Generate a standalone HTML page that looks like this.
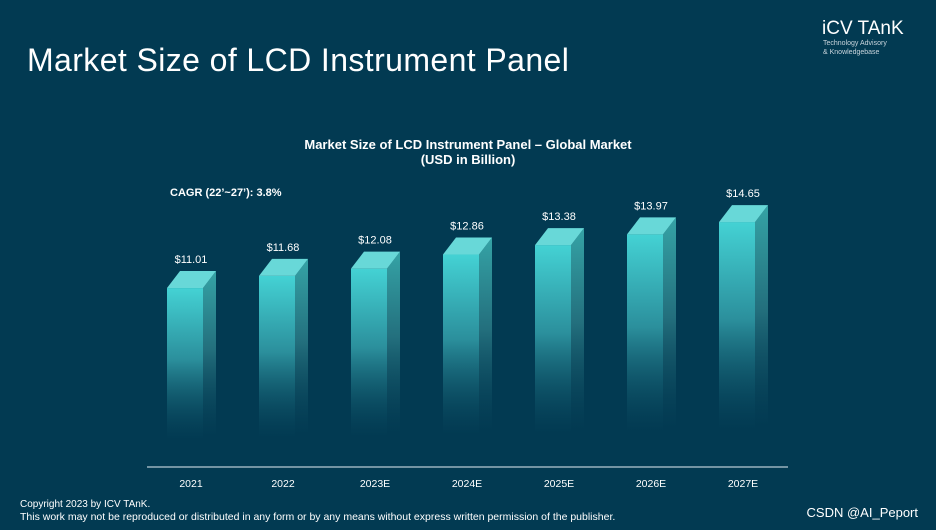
<!DOCTYPE html>
<html><head><meta charset="utf-8"><style>
body{margin:0;width:936px;height:530px;background:#023a52;overflow:hidden;font-family:"Liberation Sans",sans-serif;color:#fff}
</style></head><body>
<svg width="936" height="530" style="position:absolute;left:0;top:0">
<defs>
<linearGradient id="gf" x1="0" y1="0" x2="0" y2="1"><stop offset="0" stop-color="#44d2d4"/><stop offset="0.4" stop-color="#2b8f9c"/><stop offset="0.85" stop-color="#023a52" stop-opacity="0.3"/><stop offset="1" stop-color="#023a52" stop-opacity="0"/></linearGradient>
<linearGradient id="gs" x1="0" y1="0" x2="0" y2="1"><stop offset="0" stop-color="#35a3a6"/><stop offset="0.4" stop-color="#236f7d"/><stop offset="0.85" stop-color="#023a52" stop-opacity="0.3"/><stop offset="1" stop-color="#023a52" stop-opacity="0"/></linearGradient>
</defs>
<rect x="0" y="0" width="936" height="530" fill="#023a52"/>
<text x="27" y="71" font-size="32" letter-spacing="0.4" fill="#fff">Market Size of LCD Instrument Panel</text>
<text x="822" y="34" font-size="19" fill="#fff">iCV TAnK</text>
<text x="823" y="45" font-size="7" fill="#c8d4dc">Technology Advisory</text>
<text x="823" y="54" font-size="7" fill="#c8d4dc">&amp; Knowledgebase</text>
<text x="468" y="149" font-size="13" font-weight="bold" text-anchor="middle" fill="#fff">Market Size of LCD Instrument Panel – Global Market</text>
<text x="468" y="164" font-size="13" font-weight="bold" text-anchor="middle" fill="#fff">(USD in Billion)</text>
<text x="170" y="196" font-size="11" font-weight="bold" fill="#fff">CAGR (22’~27’): 3.8%</text>
<g id="bars"></g>
<line x1="147" y1="467" x2="788" y2="467" stroke="#b9cad4" stroke-width="1.2"/>
<text x="20" y="507" font-size="10" fill="#fff">Copyright  2023 by ICV TAnK.</text>
<text x="20" y="520" font-size="10.5" fill="#fff">This work may not be reproduced or distributed in any form or by any means without express written permission of the publisher.</text>
<text x="918" y="517" font-size="13" text-anchor="end" fill="#fff">CSDN @AI_Peport</text>
</svg>
<script>
const categories=["2021","2022","2023E","2024E","2025E","2026E","2027E"];
const values=[11.01,11.68,12.08,12.86,13.38,13.97,14.65];
const valueLabels=["$11.01","$11.68","$12.08","$12.86","$13.38","$13.97","$14.65"];
const base=467,v0=1.14,k=18.13;
function yS(v){return base-(v-v0)*k;}
function xC(i){return 190+i*92;}
const ns="http://www.w3.org/2000/svg",g=document.getElementById('bars');
function mk(t,a){const e=document.createElementNS(ns,t);for(const n in a)e.setAttribute(n,a[n]);g.appendChild(e);return e;}
values.forEach((v,i)=>{
 const L=xC(i)-23,W=36,D=13,H=17,T=yS(v);
 let e=mk('rect',{x:L,y:T,width:W,height:base-T,fill:'url(#gf)'});
 
 
 e=mk('polygon',{points:`${L+W},${T} ${L+W+D},${T-H} ${L+W+D},${base-H} ${L+W},${base}`,fill:'url(#gs)'});
 
 
 e=mk('polygon',{points:`${L},${T} ${L+D},${T-H} ${L+W+D},${T-H} ${L+W},${T}`,fill:'#68d8d8'});
 
 
 e=mk('text',{x:xC(i)+1,y:T-25,'font-size':11,'text-anchor':'middle',fill:'#fff'});
 e.textContent=valueLabels[i];
 
 
 e=mk('text',{x:xC(i)+1,y:487,'font-size':10.5,'text-anchor':'middle',fill:'#fff'});
 e.textContent=categories[i];
 
 
});
</script>
</body></html>
